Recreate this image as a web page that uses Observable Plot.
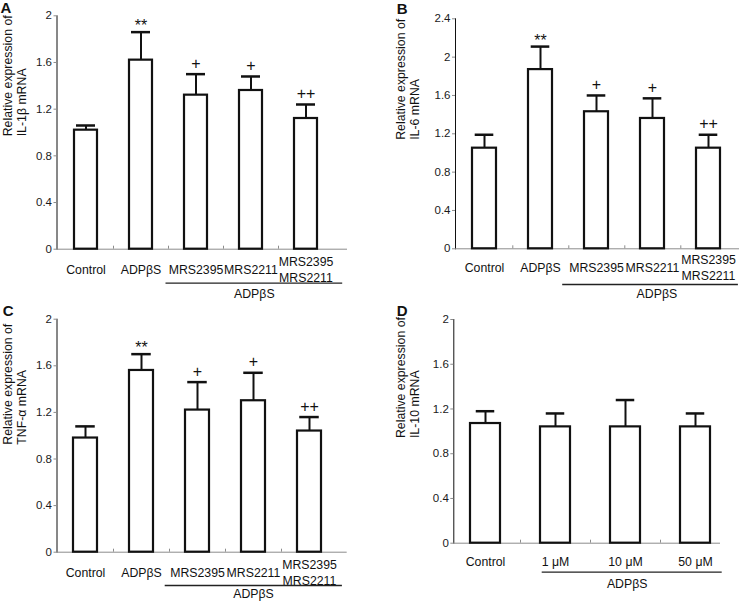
<!DOCTYPE html>
<html><head><meta charset="utf-8">
<script src="https://cdn.jsdelivr.net/npm/d3@7"></script>
<script src="https://cdn.jsdelivr.net/npm/@observablehq/plot@0.6"></script>
<style>
body{margin:0;background:#fff;}
#fig{position:relative;width:743px;height:604px;overflow:hidden;background:#fff;}
.panel{position:absolute;}
.letter{position:absolute;font:bold 15px "Liberation Sans",Arial,sans-serif;line-height:1;color:#111;}
.panel svg [aria-label^="y-axis"] line, .panel svg [aria-label^="y-axis"] path{stroke:#8c8c8c;}
.panel svg [aria-label^="y-axis"] text{fill:#1a1a1a;stroke:none;font-size:11.5px;}
</style></head><body><div id="fig"></div>
<script>
// ---- data ----
const groupsABC = ["Control", "ADPβS", "MRS2395", "MRS2211", "MRS2395\nMRS2211"];
const groupsD = ["Control", "1 μM", "10 μM", "50 μM"];
const sigABC = ["", "**", "+", "+", "++"];

const il1bMean = [1.02, 1.62, 1.32, 1.36, 1.12];
const il1bErr  = [0.04, 0.24, 0.18, 0.12, 0.12];
const il6Mean  = [1.05, 1.87, 1.43, 1.36, 1.05];
const il6Err   = [0.14, 0.24, 0.17, 0.21, 0.14];
const tnfMean  = [0.98, 1.56, 1.22, 1.30, 1.04];
const tnfErr   = [0.10, 0.14, 0.24, 0.24, 0.12];
const il10Mean = [1.07, 1.04, 1.04, 1.04];
const il10Err  = [0.11, 0.12, 0.24, 0.12];

const ticks2  = [0, 0.4, 0.8, 1.2, 1.6, 2];
const ticks24 = [0, 0.4, 0.8, 1.2, 1.6, 2, 2.4];

const yLabelA = "Relative expression of\nIL-1β mRNA";
const yLabelB = "Relative expression of\nIL-6 mRNA";
const yLabelC = "Relative expression of\nTNF-α mRNA";
const yLabelD = "Relative expression of\nIL-10 mRNA";
const groupLabel = "ADPβS";
const panelLetters = ["A", "B", "C", "D"];

// ---- drawing ----
const FONT = '"Liberation Sans", Arial, sans-serif';
const ink = "#111";
const axisGrey = "#8c8c8c";

function panel(spec, lay) {
  const {cats, mean, err, sig, ticks, ylabel, group} = spec;
  const data = cats.map((c, i) => ({cat: c, mean: mean[i], upper: mean[i] + err[i], sig: sig ? sig[i] : ""}));
  const n = cats.length;
  const pi = 1 - lay.barW / lay.step;
  const po = (lay.bar0 - lay.ml) / lay.step;
  const r0 = lay.ml, r1 = r0 + lay.step * (n - pi + 2 * po);
  const capInset = (lay.barW - lay.capW) / 2;
  return Plot.plot({
    width: lay.w, height: lay.h,
    marginLeft: lay.ml, marginRight: lay.mr, marginTop: lay.mt, marginBottom: lay.mb,
    style: {fontFamily: FONT, fontSize: "11.5px", color: ink, background: "transparent", overflow: "visible"},
    x: {domain: cats, range: [r0, r1], paddingInner: pi, paddingOuter: po, align: 0.5, axis: null},
    y: {domain: [0, ticks[ticks.length - 1]], ticks: ticks, tickFormat: d => String(d), tickSize: 3, tickPadding: 2, line: true, label: null},
    marks: [
      Plot.ruleY([0], {stroke: axisGrey, strokeWidth: 1}),
      Plot.ruleX(cats.slice(0, -1), {x: d => d, y1: () => 0, y2: () => 0, insetTop: -3, dx: lay.step / 2, stroke: axisGrey, strokeWidth: 1}),
      Plot.barY(data, {x: "cat", y: "mean", fill: "white", stroke: ink, strokeWidth: 2.2}),
      Plot.ruleX(data, {x: "cat", y1: "mean", y2: "upper", stroke: ink, strokeWidth: 2}),
      Plot.tickY(data, {x: "cat", y: "upper", insetLeft: capInset, insetRight: capInset, stroke: ink, strokeWidth: 2.5}),
      Plot.text(data.filter(d => d.sig.includes("+")), {x: "cat", y: "upper", text: "sig", fontSize: 16, lineAnchor: "middle", dy: -10.5, fill: ink}),
      Plot.text(data.filter(d => d.sig.includes("*")), {x: "cat", y: "upper", text: "sig", fontSize: 16, lineAnchor: "middle", dy: -6, fill: ink}),
      Plot.text(data, {x: "cat", text: "cat", frameAnchor: "bottom", lineAnchor: "middle", dy: lay.labDy, fontSize: 12.3, lineHeight: 1.3, fill: ink}),
      Plot.ruleY([0], {x1: () => group.from, x2: () => group.to, dy: lay.lineDy, insetLeft: lay.inL, insetRight: lay.inR, stroke: "#222", strokeWidth: 1.3}),
      Plot.text([group.label], {x: () => group.mid, text: d => d, frameAnchor: "bottom", lineAnchor: "middle", dy: lay.grpDy, dx: lay.grpDx, fontSize: 12.3, fill: ink}),
      Plot.text([ylabel], {text: d => d, frameAnchor: "left", lineAnchor: "middle", rotate: -90, dx: lay.ylDx, dy: lay.ylDy, fontSize: 12.3, lineHeight: 1.1, fill: ink})
    ]
  });
}

const groupABC = {from: "MRS2395", to: "MRS2395\nMRS2211", mid: "MRS2211", label: groupLabel};
const groupD = {from: "1 μM", to: "50 μM", mid: "10 μM", label: groupLabel};

const panels = [
  {spec: {cats: groupsABC, mean: il1bMean, err: il1bErr, sig: sigABC, ticks: ticks2, ylabel: yLabelA, group: groupABC},
   lay: {left: 0, top: 0, w: 370, h: 300, ml: 56.5, mr: 23, mt: 15.3, mb: 51.3, bar0: 73.5, step: 55, barW: 23, capW: 19,
         labDy: 19.3, lineDy: 34, inL: -18.5, inR: -25.2, grpDy: 44.6, grpDx: 3.3, ylDx: -42.5, ylDy: 3.8},
   letter: {x: 0.5, y: 0}},
  {spec: {cats: groupsABC, mean: il6Mean, err: il6Err, sig: sigABC, ticks: ticks24, ylabel: yLabelB, group: groupABC},
   lay: {left: 370, top: 0, w: 373, h: 300, ml: 85, mr: 4, mt: 18.3, mb: 51.7, bar0: 100.3, step: 56.6, barW: 24.4, capW: 19,
         labDy: 18, lineDy: 35.7, inL: -21.8, inR: -17.9, grpDy: 45, grpDx: 4.4, ylDx: -48, ylDy: 6},
   letter: {x: 396.7, y: 1.3}},
  {spec: {cats: groupsABC, mean: tnfMean, err: tnfErr, sig: sigABC, ticks: ticks2, ylabel: yLabelC, group: groupABC},
   lay: {left: 0, top: 300, w: 370, h: 304, ml: 56.5, mr: 23.3, mt: 18.7, mb: 52.3, bar0: 73.3, step: 56, barW: 23.5, capW: 19,
         labDy: 20, lineDy: 33.3, inL: -20.3, inR: -20.9, grpDy: 41.6, grpDx: 0, ylDx: -42.5, ylDy: 9},
   letter: {x: 2.7, y: 303}},
  {spec: {cats: groupsD, mean: il10Mean, err: il10Err, sig: null, ticks: ticks2, ylabel: yLabelD, group: groupD},
   lay: {left: 370, top: 300, w: 373, h: 304, ml: 83.3, mr: 23, mt: 19, mb: 61.3, bar0: 100, step: 70, barW: 30, capW: 18.5,
         labDy: 17.5, lineDy: 29, inL: 1.7, inR: -11.7, grpDy: 40.6, grpDx: 1.7, ylDx: -46.3, ylDy: 6.7},
   letter: {x: 396.7, y: 303}}
];

const fig = document.getElementById("fig");
panels.forEach((p, i) => {
  const div = document.createElement("div");
  div.className = "panel";
  div.style.left = p.lay.left + "px";
  div.style.top = p.lay.top + "px";
  div.appendChild(panel(p.spec, p.lay));
  fig.appendChild(div);
  const l = document.createElement("div");
  l.className = "letter";
  l.style.left = p.letter.x + "px";
  l.style.top = p.letter.y + "px";
  l.textContent = panelLetters[i];
  fig.appendChild(l);
});
</script>
</body></html>
